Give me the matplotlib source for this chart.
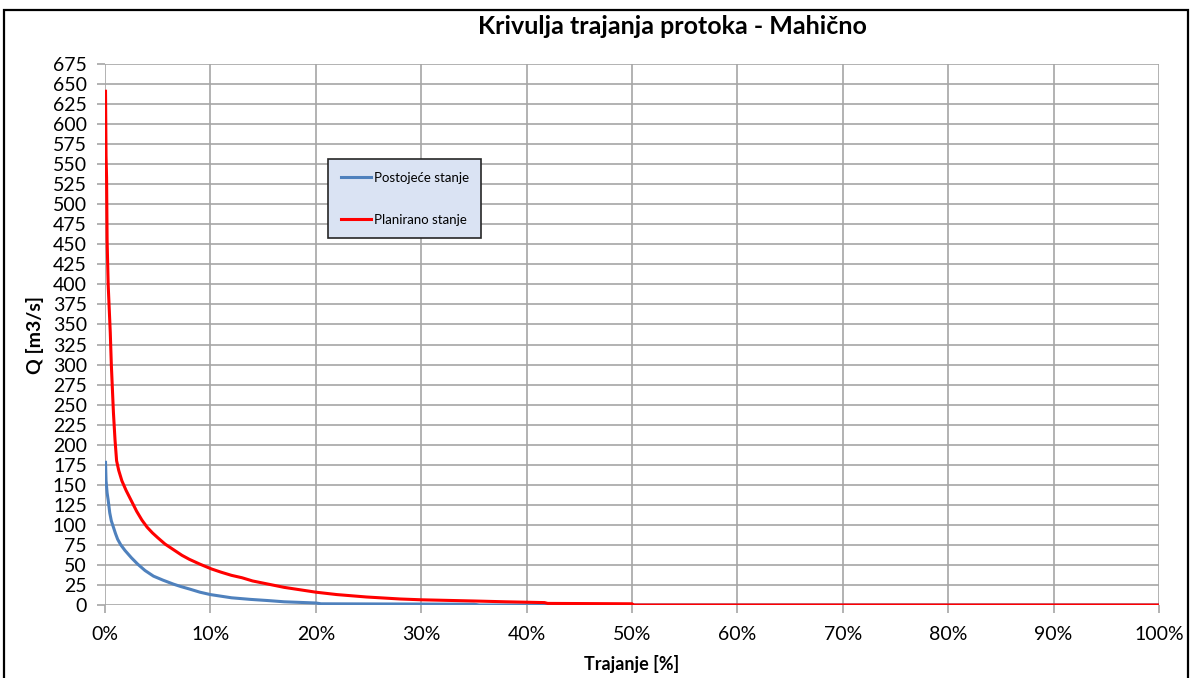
import matplotlib
matplotlib.use("Agg")
from matplotlib import pyplot as plt
from matplotlib.patches import Rectangle
from matplotlib.ticker import FuncFormatter, MultipleLocator

plt.rcParams['font.family'] = ['Lato', 'DejaVu Sans']

# trajanje [%] / protok [m3/s]
postojece_x = [0.05, 0.1, 0.2, 0.3, 0.45, 0.6, 0.8, 1.0, 1.2, 1.5, 1.9, 2.5, 3.1, 3.8, 4.6,
               5.5, 6.5, 7.2, 8.0, 9.0, 10.0, 11.0, 12.0, 13.8, 15.5, 17.0, 20.0, 20.5,
               35.0, 35.5, 100.0]
postojece_q = [178, 155, 140, 131, 115, 105, 97, 89, 82, 75, 68, 59, 51, 43, 36,
               31, 26, 23, 20, 16, 13, 11, 9, 7, 5.5, 4, 2.5, 1.5,
               1.0, 0, 0]

planirano_x = [0.05, 0.1, 0.15, 0.2, 0.3, 0.5, 0.6, 0.7, 0.8, 0.95, 1.1, 1.3, 1.6, 2.0,
               2.5, 3.0, 3.5, 4.0, 4.5, 5.0, 5.7, 6.5, 7.3, 8.0, 9.0, 10.1, 11.0, 12.0,
               13.0, 14.0, 15.5, 17.0, 18.5, 20.0, 22.0, 24.8, 28.0, 30.0, 35.0, 38.0,
               41.7, 42.0, 50.0, 50.1, 100.0]
planirano_q = [641, 560, 533, 455, 400, 340, 300, 270, 240, 206, 180, 168, 155, 143,
               130, 117, 106, 97, 90, 84, 76, 69, 62, 57, 51, 45, 41, 37,
               34, 30, 26, 22, 19, 16, 13, 10, 7.5, 6.5, 5, 4,
               3, 2, 1.5, 0, 0]

x_ticks = list(range(0, 101, 10))

fig = plt.figure(figsize=(11.91, 6.78), dpi=100)
ax = fig.add_axes([105 / 1191, 1 - 605 / 678, 1054 / 1191, 541 / 678])

ax.plot(postojece_x, postojece_q, color='#4f81bd', lw=2.2, label='Postojeće stanje')
ax.plot(planirano_x, planirano_q, color='#ff0000', lw=2.2, label='Planirano stanje')

ax.set_xlim(0, 100)
ax.set_ylim(0, 675)
ax.set_xticks(x_ticks)
ax.xaxis.set_major_formatter(FuncFormatter(lambda v, p: f"{int(v)}%"))
ax.yaxis.set_major_locator(MultipleLocator(25))

for s in ax.spines.values():
    s.set_visible(False)
ax.grid(True, color='#a6a6a6', lw=1.2)
ax.set_axisbelow(True)
ax.tick_params(axis='both', colors='#a6a6a6', labelcolor='black', length=6, width=1.2,
               labelsize=14)
ax.tick_params(axis='y', pad=7)
ax.tick_params(axis='x', pad=9)

ax.set_xlabel('Trajanje [%]', fontsize=13, fontweight='bold', labelpad=9)
ax.set_ylabel('Q [m3/s]', fontsize=14, fontweight='bold', labelpad=6)

fig.text(672 / 1191, 1 - 26 / 678, 'Krivulja trajanja protoka - Mahično', ha='center',
         va='center', fontsize=18, fontweight='bold')

leg = ax.legend(loc='upper left', bbox_to_anchor=(223 / 1054, 446 / 541), fontsize=9.5,
                frameon=True, fancybox=False, handlelength=2.3, handletextpad=0.2,
                labelspacing=2.3, borderpad=0.95, borderaxespad=0)
leg.get_frame().set_facecolor('#dae3f3')
leg.get_frame().set_edgecolor('#262626')
leg.get_frame().set_linewidth(1.2)
leg.get_frame().set_alpha(1)

# okvir oko grafikona
fig.patches.append(Rectangle((4 / 1191, -0.1), 1184 / 1191, 1.1 - 10 / 678,
                             transform=fig.transFigure, fill=False, ec='black', lw=1.6))

fig.savefig('out.png', dpi=100)
